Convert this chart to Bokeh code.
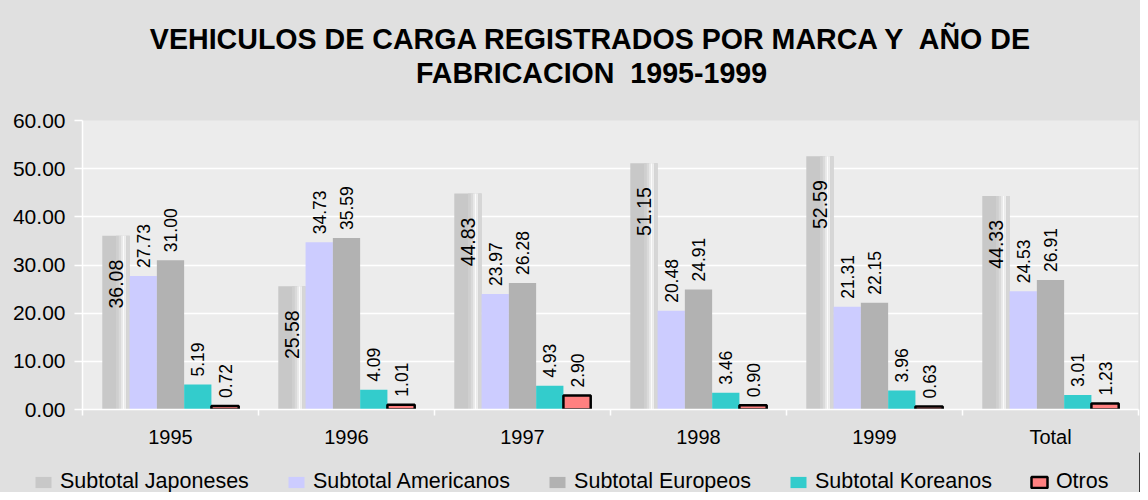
import math
from bokeh.plotting import figure
from bokeh.layouts import column
from bokeh.models import (Range1d, FixedTicker, NumeralTickFormatter, Legend,
                          LegendItem, Label)
from bokeh.core.properties import value
from bokeh.embed import file_html
from bokeh.resources import INLINE

# ---------------- data ----------------
categories = ["1995", "1996", "1997", "1998", "1999", "Total"]
series_names = ["Subtotal Japoneses", "Subtotal Americanos", "Subtotal Europeos",
                "Subtotal Koreanos", "Otros"]
japoneses = [36.08, 25.58, 44.83, 51.15, 52.59, 44.33]
americanos = [27.73, 34.73, 23.97, 20.48, 21.31, 24.53]
europeos = [31.00, 35.59, 26.28, 24.91, 22.15, 26.91]
koreanos = [5.19, 4.09, 4.93, 3.46, 3.96, 3.01]
otros = [0.72, 1.01, 2.90, 0.90, 0.63, 1.23]
y_ticks = [0, 10, 20, 30, 40, 50, 60]
title_lines = ["VEHICULOS DE CARGA REGISTRADOS POR MARCA Y \u00a0AÑO DE",
               "FABRICACION \u00a01995-1999"]

series_values = [japoneses, americanos, europeos, koreanos, otros]

# ---------------- style ----------------
FONT = "Liberation Sans"
OUTER = "#e0e0e0"
W = 1140
BAR_W = 0.155
colors = ["#c8c8c8", "#ccccff", "#b2b2b2", "#33cccc", "#ff8080"]
line_colors = [None, None, None, None, "black"]
# gradient imitation for the first series (fraction start, fraction end, colour)
stripes = [(0.50, 0.60, "#cfcfcf"), (0.60, 0.68, "#dadada"), (0.68, 0.74, "#e8e8e8"),
           (0.74, 0.82, "#fbfbfb"), (0.82, 0.88, "#eeeeee"), (0.88, 1.00, "#d6d6d6")]


def blank_fig(height):
    f = figure(width=W, height=height, output_backend="svg", toolbar_location=None,
               x_axis_location=None, y_axis_location=None, min_border=0,
               x_range=Range1d(0, 1), y_range=Range1d(0, 1))
    f.frame_align = False
    f.background_fill_alpha = 0
    f.border_fill_color = OUTER
    f.outline_line_color = None
    f.grid.visible = False
    return f


# ---------------- title ----------------
tf = blank_fig(96)
for i, line in enumerate(title_lines):
    tf.add_layout(Label(x=591, y=58 - 34 * i, x_units="screen", y_units="screen",
                        text=line, text_align="center", text_baseline="middle",
                        text_font=FONT, text_font_size="28.6px", text_font_style="bold",
                        text_color="black"))

# ---------------- main chart ----------------
p = figure(width=W, height=356, output_backend="svg", toolbar_location=None,
           x_range=Range1d(0, len(categories)), y_range=Range1d(0, 60),
           min_border_left=82, min_border_right=2, min_border_top=24,
           min_border_bottom=43)
p.frame_align = False
p.background_fill_color = "#ececec"
p.border_fill_color = OUTER
p.outline_line_color = None

centers = [i + 0.5 for i in range(len(categories))]

for k, (vals, col) in enumerate(zip(series_values, colors)):
    off = (k - 2) * BAR_W
    xs = [c + off for c in centers]
    if k == 4:
        p.vbar(x=xs, top=vals, bottom=0, width=BAR_W, fill_color=col,
               line_color="black", line_width=2.5)
    else:
        p.vbar(x=xs, top=vals, bottom=0, width=BAR_W, fill_color=col,
               line_color=None)
    if k == 0:
        for a, b, sc in stripes:
            sx = [x - BAR_W / 2 + BAR_W * (a + b) / 2 for x in xs]
            p.vbar(x=sx, top=vals, bottom=0, width=BAR_W * (b - a),
                   fill_color=sc, line_color=None)
        p.text(x=xs, y=vals, text=[f"{v:.2f}" for v in vals], angle=math.pi / 2,
               text_align="right", text_baseline="middle", y_offset=24,
               text_font=value(FONT), text_font_size="19.5px", text_color="black")
    else:
        p.text(x=xs, y=vals, text=[f"{v:.2f}" for v in vals], angle=math.pi / 2,
               text_align="left", text_baseline="middle", y_offset=-8,
               text_font=value(FONT), text_font_size="17.5px", text_color="black")

xa = p.xaxis[0]
xa.ticker = FixedTicker(ticks=centers, minor_ticks=list(range(len(categories) + 1)))
xa.major_label_overrides = {c: cat for c, cat in zip(centers, categories)}
xa.major_tick_out = 0
xa.major_tick_in = 0
xa.minor_tick_out = 6
xa.minor_tick_in = 0
xa.minor_tick_line_color = "white"
xa.minor_tick_line_width = 1.5
xa.axis_line_color = "white"
xa.axis_line_width = 1.5
xa.major_label_standoff = 10
xa.major_label_text_font = FONT
xa.major_label_text_font_size = "20px"
xa.major_label_text_color = "black"

ya = p.yaxis[0]
ya.ticker = FixedTicker(ticks=y_ticks, minor_ticks=[])
ya.formatter = NumeralTickFormatter(format="0.00")
ya.major_tick_out = 8
ya.major_tick_in = 0
ya.major_tick_line_color = "white"
ya.major_tick_line_width = 1.5
ya.axis_line_color = "white"
ya.axis_line_width = 1.5
ya.major_label_standoff = 9
ya.major_label_text_font = FONT
ya.major_label_text_font_size = "21px"
ya.major_label_text_color = "black"

p.xgrid.visible = False
p.ygrid.grid_line_color = "white"
p.ygrid.grid_line_width = 1.5

# ---------------- legend ----------------
lf = blank_fig(40)
items = []
for name, col, lc in zip(series_names, colors, line_colors):
    # a single off-frame bar so that the legend has a glyph to show
    r = lf.vbar(x=[5], top=[1], bottom=0, width=0.1, fill_color=col,
                line_color=lc, line_width=2.5)
    items.append(LegendItem(label=name, renderers=[r]))
legend = Legend(items=items, location=(33, -2), orientation="horizontal",
                background_fill_alpha=0, border_line_alpha=0, padding=0, margin=0,
                spacing=37, label_standoff=7, glyph_width=20, glyph_height=14,
                label_text_font=FONT, label_text_font_size="21.5px",
                label_text_color="black", label_height=20)
lf.add_layout(legend)

layout = column(tf, p, lf, spacing=0, styles={"background-color": OUTER})
open("out.html", "w").write(file_html(layout, INLINE))
